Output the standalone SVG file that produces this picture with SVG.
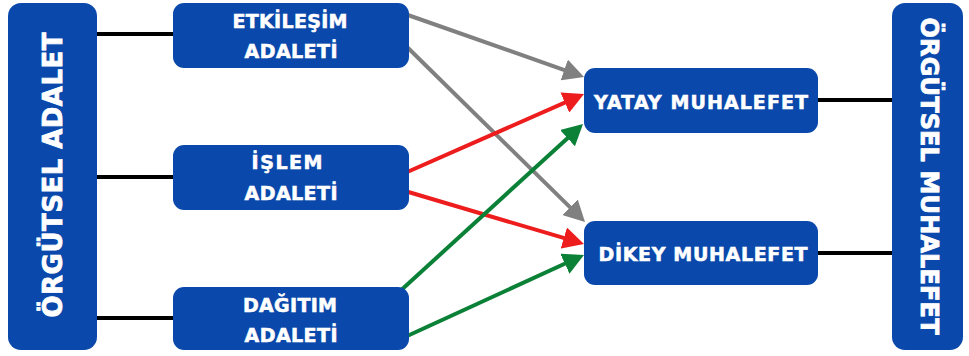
<svg xmlns="http://www.w3.org/2000/svg" width="969" height="356" viewBox="0 0 969 356">
<style>
.box{fill:#0A49AB;}
.t{fill:#ffffff;stroke:#ffffff;stroke-width:0.6px;font-family:"DejaVu Sans","Liberation Sans",sans-serif;font-weight:bold;font-size:19px;text-anchor:middle;}
.big{font-size:26px;stroke-width:0.8px;}
.blk{stroke:#000;stroke-width:4;fill:none;}
.gray{stroke:#808080;stroke-width:4;fill:none;marker-end:url(#ag);}
.red{stroke:#EE1D1D;stroke-width:4;fill:none;marker-end:url(#ar);}
.green{stroke:#0B8037;stroke-width:4;fill:none;marker-end:url(#agr);}
</style>
<defs>
<marker id="ag" markerUnits="userSpaceOnUse" markerWidth="22" markerHeight="22" viewBox="0 0 22 22" refX="13" refY="11" orient="auto"><path d="M0,0 L21,11 L0,22 z" fill="#808080"/></marker>
<marker id="ar" markerUnits="userSpaceOnUse" markerWidth="22" markerHeight="22" viewBox="0 0 22 22" refX="13" refY="11" orient="auto"><path d="M0,0 L21,11 L0,22 z" fill="#EE1D1D"/></marker>
<marker id="agr" markerUnits="userSpaceOnUse" markerWidth="22" markerHeight="22" viewBox="0 0 22 22" refX="13" refY="11" orient="auto"><path d="M0,0 L21,11 L0,22 z" fill="#0B8037"/></marker>
</defs>
<rect width="969" height="356" fill="#ffffff"/>
<g id="connectors">
<line class="blk" x1="95" y1="34" x2="175" y2="34"/>
<line class="blk" x1="95" y1="177" x2="175" y2="177"/>
<line class="blk" x1="95" y1="318" x2="175" y2="318"/>
<line class="blk" x1="816" y1="100" x2="894" y2="100"/>
<line class="blk" x1="816" y1="253" x2="894" y2="253"/>
<line class="gray" x1="405" y1="14" x2="576.5" y2="74.3"/>
<line class="gray" x1="405" y1="45" x2="579.3" y2="216.4"/>
<line class="red" x1="405" y1="173" x2="576.7" y2="97.3"/>
<line class="red" x1="405" y1="191" x2="576.3" y2="241.7"/>
<line class="green" x1="398" y1="293" x2="577.1" y2="129.4"/>
<line class="green" x1="405" y1="337" x2="576.7" y2="258.3"/>
</g>
<g id="orgutsel-adalet">
<rect class="box" x="8" y="3" width="89" height="347" rx="13"/>
<text class="t big" transform="translate(62,175) rotate(-90)" textLength="285">ÖRGÜTSEL ADALET</text>
</g>
<g id="etkilesim">
<rect class="box" x="173" y="3" width="236" height="65" rx="11"/>
<text class="t" x="290" y="28" textLength="115">ETKİLEŞİM</text>
<text class="t" x="291" y="58" textLength="93">ADALETİ</text>
</g>
<g id="islem">
<rect class="box" x="173" y="145" width="236" height="65" rx="11"/>
<text class="t" x="287" y="169" textLength="71">İŞLEM</text>
<text class="t" x="291" y="200" textLength="93">ADALETİ</text>
</g>
<g id="dagitim">
<rect class="box" x="173" y="287" width="236" height="63" rx="11"/>
<text class="t" x="290" y="312" textLength="94">DAĞITIM</text>
<text class="t" x="291" y="342" textLength="93">ADALETİ</text>
</g>
<g id="yatay">
<rect class="box" x="584" y="68" width="234" height="65" rx="11"/>
<text class="t" x="701" y="109" textLength="214">YATAY MUHALEFET</text>
</g>
<g id="dikey">
<rect class="box" x="584" y="221" width="234" height="64" rx="11"/>
<text class="t" x="703" y="261" textLength="209">DİKEY MUHALEFET</text>
</g>
<g id="orgutsel-muhalefet">
<rect class="box" x="892" y="3" width="71" height="347" rx="13"/>
<text class="t big" style="font-size:24px" transform="translate(921,176) rotate(90)" textLength="317">ÖRGÜTSEL MUHALEFET</text>
</g>
</svg>
